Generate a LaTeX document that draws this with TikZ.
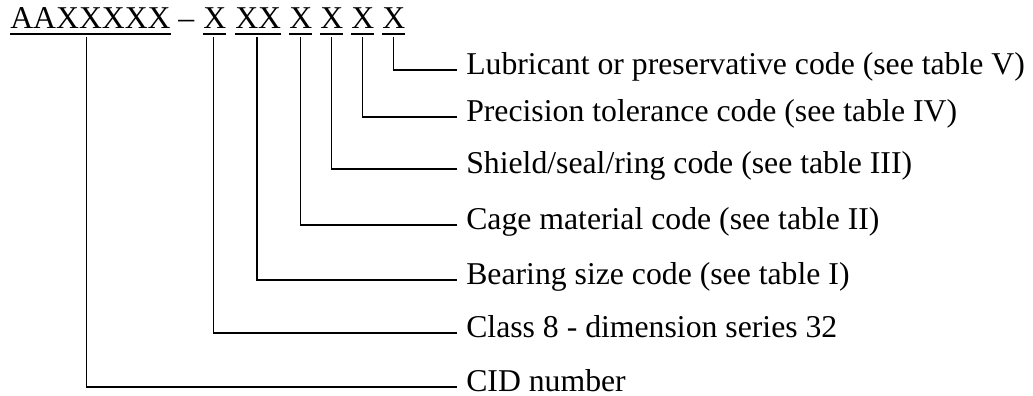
\documentclass[tikz,border=0pt]{standalone}
\usepackage{fontspec}
\setmainfont{Liberation Serif}
\begin{document}
\begin{tikzpicture}[x=0.75pt,y=-0.75pt,
  code/.style={inner sep=0pt,anchor=base west,font=\fontsize{23.8}{28}\selectfont},
  lab/.style={inner sep=0pt,anchor=base west,font=\fontsize{23.8}{28}\selectfont},
  ln/.style={line width=1.1pt,line cap=butt}]
\useasboundingbox (0,0) rectangle (1033,396);
% top code string
\node[code] (a)  at (10,28)  {AAXXXXX};
\node[code] (d)  at (178,28) {--};
\node[code] (x1) at (203,28) {X};
\node[code] (x2) at (235,28) {XX};
\node[code] (x3) at (289,28) {X};
\node[code] (x4) at (320,28) {X};
\node[code] (x5) at (351,28) {X};
\node[code] (x6) at (382,28) {X};
\foreach \n in {a,x1,x2,x3,x4,x5,x6}{
  \draw[ln] ([yshift=-4.5pt]\n.base west) -- ([yshift=-4.5pt]\n.base east);
}
% labels
\node[lab] (l1) at (466,74)  {Lubricant or preservative code (see table V)};
\node[lab] (l2) at (466,121) {Precision tolerance code (see table IV)};
\node[lab] (l3) at (466,173) {Shield/seal/ring code (see table III)};
\node[lab] (l4) at (466,229) {Cage material code (see table II)};
\node[lab] (l5) at (466,284) {Bearing size code (see table I)};
\node[lab] (l6) at (466,337) {Class 8 - dimension series 32};
\node[lab] (l7) at (466,391) {CID number};
\coordinate (e1) at (457,70);
\coordinate (e2) at (457,117);
\coordinate (e3) at (457,169);
\coordinate (e4) at (457,225);
\coordinate (e5) at (457,280);
\coordinate (e6) at (457,333);
\coordinate (e7) at (457,387);
% connectors
\draw[ln] ([xshift=-3pt,yshift=-6.8pt]a.base)  |- (e7);
\draw[ln] ([xshift=-1pt,yshift=-6.8pt]x1.base) |- (e6);
\draw[ln] ([xshift=-1pt,yshift=-6.8pt]x2.base) |- (e5);
\draw[ln] ([yshift=-6.8pt]x3.base) |- (e4);
\draw[ln] ([yshift=-6.8pt]x4.base) |- (e3);
\draw[ln] ([yshift=-6.8pt]x5.base) |- (e2);
\draw[ln] ([yshift=-6.8pt]x6.base) |- (e1);
\end{tikzpicture}
\end{document}
